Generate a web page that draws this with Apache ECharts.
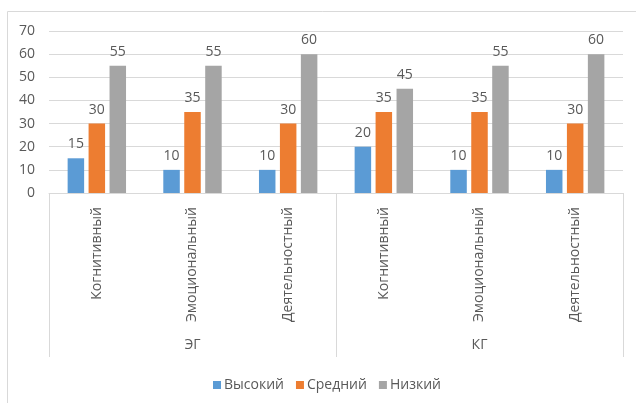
<!DOCTYPE html>
<html><head><meta charset="utf-8">
<script src="https://cdn.jsdelivr.net/npm/echarts@6/dist/echarts.min.js"></script>
<style>html,body{margin:0;padding:0;background:#fff}#c{width:636px;height:403px}</style>
</head><body><div id="c"></div>
<script>
const categories = ['Когнитивный','Эмоциональный','Деятельностный','Когнитивный','Эмоциональный','Деятельностный'];
const groups = ['ЭГ','КГ'];
const seriesNames = ['Высокий','Средний','Низкий'];
const high = [15,10,10,20,10,10];
const mid = [30,35,30,35,35,30];
const low = [55,55,60,45,55,60];
const yTicks = {min:0, max:70, interval:10};

const colors = ['#5b9bd5','#ed7d31','#a5a5a5'];
const txt = '#595959';
const ff = 'Open Sans';
const chart = echarts.init(document.getElementById('c'));
const vals = [high, mid, low];
chart.setOption({
  animation:false,
  textStyle:{fontFamily:ff},
  graphic:[{type:'rect',shape:{x:7.5,y:11.5,width:700,height:500},style:{fill:'none',stroke:'#d9d9d9',lineWidth:1}}],
  legend:{data:seriesNames,top:373,left:208,itemWidth:8,itemHeight:8,itemGap:12,icon:'rect',
    textStyle:{color:txt,fontSize:14,fontFamily:ff,padding:[0,0,0,-2]}},
  grid:{left:49,right:13,top:31,bottom:210,containLabel:false},
  xAxis:[{type:'category',data:categories,
    axisLine:{lineStyle:{color:'#d9d9d9'}},axisTick:{show:false},
    axisLabel:{rotate:90,margin:14,color:txt,fontSize:14,fontFamily:ff,interval:0}},
   {type:'category',data:groups,position:'bottom',
    axisLine:{show:false},axisTick:{show:true,length:164,lineStyle:{color:'#d9d9d9'}},
    axisLabel:{margin:145,color:txt,fontSize:14,fontFamily:ff},splitLine:{show:false}}],
  yAxis:{type:'value',min:yTicks.min,max:yTicks.max,interval:yTicks.interval,
    axisLine:{show:false},axisTick:{show:false},
    splitLine:{lineStyle:{color:'#d9d9d9'}},
    axisLabel:{color:txt,fontSize:14,fontFamily:ff,margin:14}},
  series: seriesNames.map((n,i)=>({name:n,type:'bar',data:vals[i],xAxisIndex:0,
    barWidth:16.5,barGap:'27%',itemStyle:{color:colors[i]},
    label:{show:true,position:'top',distance:7,color:txt,fontSize:14,fontFamily:ff}}))
});
</script></body></html>
